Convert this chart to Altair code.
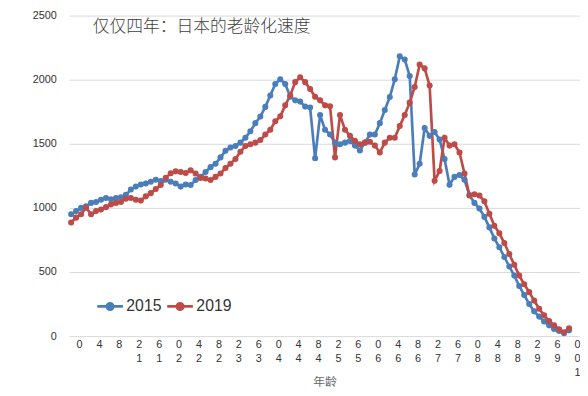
import altair as alt
import pandas as pd

ages = list(range(0, 101))

pop_2015 = [950, 975, 1000, 1013, 1039, 1046, 1064, 1077, 1067, 1077,
            1082, 1102, 1143, 1166, 1183, 1191, 1204, 1219, 1210, 1219,
            1204, 1191, 1166, 1183, 1178, 1217, 1242, 1280, 1318, 1344,
            1394, 1445, 1471, 1483, 1509, 1547, 1598, 1661, 1712, 1788,
            1877, 1966, 2004, 1966, 1867, 1839, 1829, 1790, 1783, 1387,
            1724, 1610, 1572, 1509, 1496, 1509, 1521, 1486, 1448, 1509,
            1572, 1572, 1661, 1763, 1865, 2004, 2182, 2157, 2029, 1260,
            1344, 1623, 1562, 1592, 1534, 1382, 1181, 1242, 1257, 1219,
            1100, 1039, 995, 930, 848, 762, 693, 617, 543, 472,
            391, 320, 251, 193, 152, 114, 84, 56, 40, 23,
            45]

pop_2019 = [886, 924, 950, 1001, 950, 975, 988, 1006, 1026, 1039,
            1046, 1072, 1077, 1064, 1057, 1090, 1115, 1148, 1178, 1235,
            1270, 1285, 1280, 1272, 1293, 1268, 1234, 1229, 1217, 1242,
            1268, 1311, 1344, 1382, 1438, 1483, 1496, 1509, 1529, 1572,
            1610, 1676, 1714, 1800, 1877, 1981, 2019, 1981, 1928, 1867,
            1839, 1800, 1793, 1394, 1724, 1610, 1562, 1524, 1496, 1509,
            1516, 1486, 1432, 1509, 1547, 1547, 1638, 1724, 1821, 1943,
            2118, 2088, 1954, 1211, 1288, 1547, 1486, 1496, 1432, 1268,
            1097, 1107, 1097, 1051, 955, 861, 802, 726, 640, 556,
            472, 404, 343, 277, 213, 162, 117, 84, 53, 30,
            61]

years = ["2015", "2019"]
colors = ["#4A7EBB", "#BE4B48"]
x_ticks = list(range(0, 101, 4))
y_ticks = [0, 500, 1000, 1500, 2000, 2500]
title_text = "仅仅四年：日本的老龄化速度"
x_title = "年龄"

df = pd.concat([
    pd.DataFrame({"age": ages, "pop": pop_2015, "year": years[0]}),
    pd.DataFrame({"age": ages, "pop": pop_2019, "year": years[1]}),
])

sym = "M-1,0H1M-0.25,0A0.25,0.25,0,1,1,0.25,0A0.25,0.25,0,1,1,-0.25,0Z"

label_expr = ("datum.value < 10 ? datum.label : (datum.value < 100 ? "
              "[substring(datum.label, 1, 2), substring(datum.label, 0, 1)] : ['0', '0', '1'])")

base = alt.Chart(df)

lines = base.mark_line(
    strokeWidth=2.7,
    point=alt.OverlayMarkDef(filled=True, size=38),
).encode(
    x=alt.X("age:Q",
            scale=alt.Scale(domain=[-0.4, 102.2], nice=False, zero=False),
            axis=alt.Axis(values=x_ticks, grid=False, domain=False, ticks=False,
                          labelExpr=label_expr, labelFontSize=11, labelColor="#333333",
                          labelFont="Liberation Sans", labelBaseline="top",
                          labelPadding=3, labelLineHeight=14, labelOffset=8,
                          labelOverlap=False, labelFlush=False,
                          title=x_title, titleFont="Noto Sans CJK SC",
                          titleFontSize=12, titleFontWeight="normal",
                          titleColor="#666666", titleY=46, titleBaseline="middle")),
    y=alt.Y("pop:Q",
            scale=alt.Scale(domain=[0, 2500], nice=False),
            axis=alt.Axis(values=y_ticks, format="d", domain=False, ticks=False,
                          labelFontSize=11, labelColor="#333333",
                          labelFont="Liberation Sans", labelPadding=13,
                          gridColor="#D9D9D9", gridWidth=1, title=None)),
    color=alt.Color("year:N",
                    scale=alt.Scale(domain=years, range=colors),
                    legend=alt.Legend(orient="none", legendX=27, legendY=280,
                                      direction="horizontal", title=None,
                                      symbolType=sym, symbolSize=676,
                                      symbolStrokeWidth=2.7,
                                      labelFontSize=16, labelColor="#333333",
                                      labelFont="Liberation Sans",
                                      labelOffset=2, columnPadding=0)),
)

title = alt.Chart(pd.DataFrame({"t": [title_text]})).mark_text(
    align="left", baseline="middle", fontSize=17, font="Noto Sans CJK SC",
    fontWeight=300, color="#404040",
).encode(x=alt.value(24), y=alt.value(12), text="t:N")

chart = alt.layer(lines, title).properties(
    width=518, height=325,
    autosize=alt.AutoSizeParams(type="none"),
    padding={"left": 62, "top": 5, "right": 0, "bottom": 56},
).configure_view(stroke=None)

chart.save("out.html", embed_options={"renderer": "svg", "actions": False})
